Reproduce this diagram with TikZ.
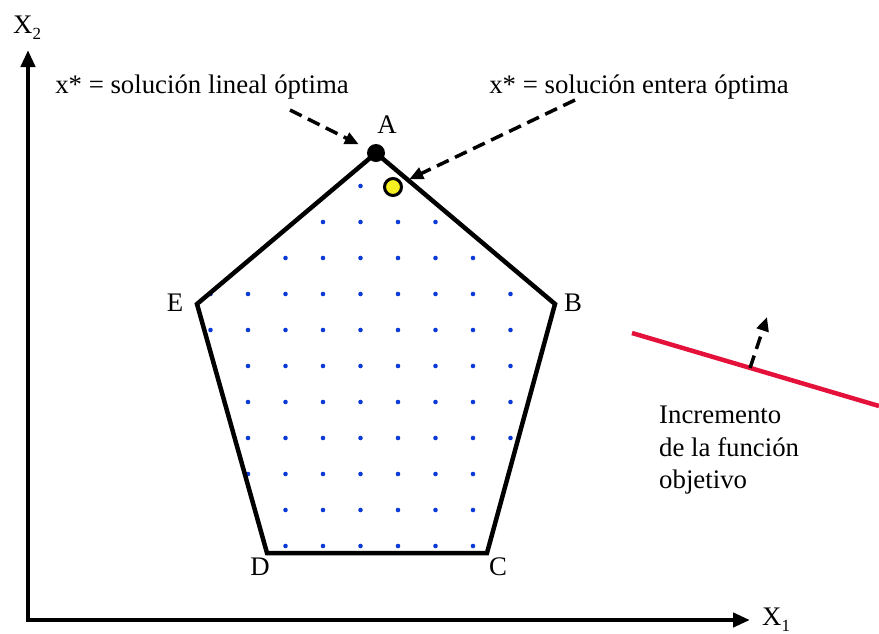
\documentclass[tikz,border=0pt]{standalone}
\usepackage{fontspec}
\setmainfont{Liberation Serif}
\usetikzlibrary{arrows.meta,calc}
\definecolor{latblue}{RGB}{12,58,214}
\definecolor{optyellow}{RGB}{246,240,34}
\definecolor{objred}{RGB}{228,18,58}
\newcommand{\lowsub}[1]{\raisebox{-6pt}{\fontsize{17}{17}\selectfont #1}}

\begin{document}
\begin{tikzpicture}[x=1pt, y=-1pt, font=\fontsize{26.8}{32.5}\selectfont, axis/.style={line width=4.5pt, line join=miter, {Triangle[length=17pt,width=14pt]}-{Triangle[length=17pt,width=14pt]}}, region/.style={line width=4.5pt, line join=miter}, lattice/.style={fill=latblue}, pointer/.style={line width=3.5pt, dash pattern=on 13pt off 7pt, -{Triangle[length=14pt,width=12pt]}}, objline/.style={draw=objred, line width=4.5pt}]
\useasboundingbox (0,0) rectangle (879,633);
% axes
\coordinate (O) at (28,620); \coordinate (xtip) at (750,620); \coordinate (ytip) at (28,50);
\draw[axis] (xtip) -- (O) -- (ytip);
\node[anchor=base west, inner sep=0] (labX2) at (13,33) {X\lowsub{2}};
\node[anchor=base west, inner sep=0] (labX1) at (762,625) {X\lowsub{1}};
% integer points
\foreach \r/\a/\b in {0/4/4,1/3/6,2/2/7,3/0/8,4/0/8,5/1/8,6/1/8,7/1/8,8/1/7,9/2/7,10/2/7}
  \foreach \i in {\a,...,\b}
    \fill[lattice] (210.5+37.5*\i, 186+36*\r) circle[radius=2.3pt];
% feasible region
\coordinate (A) at (376,153); \coordinate (B) at (555,304); \coordinate (C) at (487,553); \coordinate (D) at (267,553); \coordinate (E) at (197,304);
\draw[region] (A) -- (B) -- (C) -- (D) -- (E) -- cycle;
\node (labA) at (387,125) {A};
\node (labB) at (573,303) {B};
\node (labC) at (498,567) {C};
\node (labD) at (260,567) {D};
\node (labE) at (175,303) {E};
\node[circle, fill=black, minimum size=18pt, inner sep=0] (xlin) at (A) {};
\node[circle, draw, line width=3pt, fill=optyellow, minimum size=17pt, inner sep=0] (xint) at (393,187) {};
% optima
\node[anchor=base] (linlabel) at (202,93) {x* = solución lineal óptima};
\node[anchor=base] (intlabel) at (639,93) {x* = solución entera óptima};
\coordinate (linstart) at (290,110); \coordinate (intstart) at (575,100);
\draw[pointer, shorten >=10pt] (linstart) -- (xlin);
\draw[pointer, shorten >=8pt] (intstart) -- (xint);
% objective function
\coordinate (r1) at (632,333); \coordinate (r2) at (879,406);
\draw[objline] (r1) -- (r2);
\coordinate (gradfoot) at ($(r1)!0.478!(r2)$); \coordinate (gradtip) at (767,317);
\draw[pointer] (gradfoot) -- (gradtip);
\node[anchor=north west, inner sep=0, align=left] (inclabel) at (659,406) {Incremento\\de la función\\objetivo};
\end{tikzpicture}
\end{document}
